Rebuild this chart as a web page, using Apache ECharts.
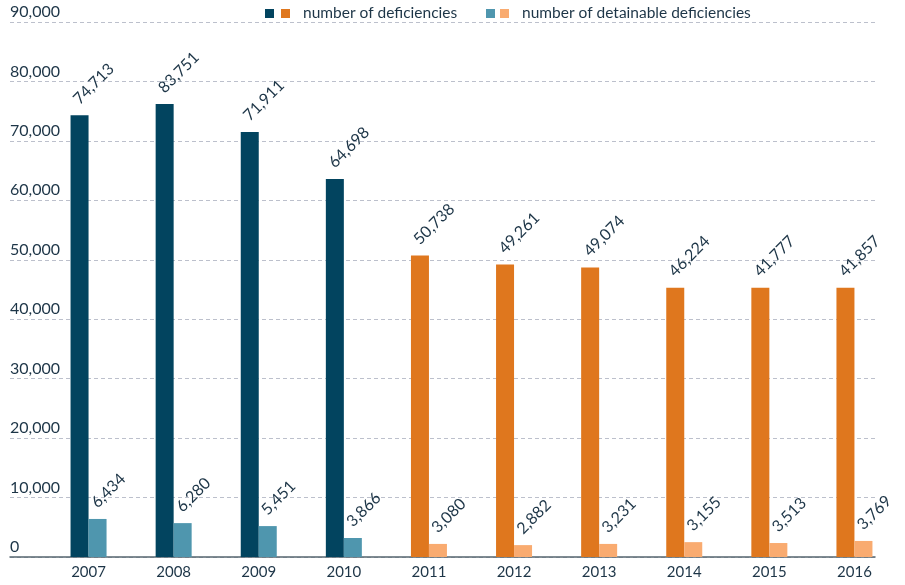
<!DOCTYPE html>
<html><head><meta charset="utf-8">
<script src="https://cdn.jsdelivr.net/npm/echarts@6/dist/echarts.min.js"></script>
<style>html,body{margin:0;padding:0;background:#fff}#c{width:905px;height:585px}</style>
</head><body><div id="c"></div>
<script>
const years = ['2007','2008','2009','2010','2011','2012','2013','2014','2015','2016'];
const deficiencies = [74300, 76200, 71500, 63600, 50700, 49200, 48700, 45300, 45300, 45300];
const detainable = [6400, 5700, 5200, 3200, 2200, 2000, 2200, 2500, 2350, 2700];
const deficiencyLabels = ['74,713','83,751','71,911','64,698','50,738','49,261','49,074','46,224','41,777','41,857'];
const detainableLabels = ['6,434','6,280','5,451','3,866','3,080','2,882','3,231','3,155','3,513','3,769'];
const yTicks = [0, 10000, 20000, 30000, 40000, 50000, 60000, 70000, 80000, 90000];
const legendNames = ['number of deficiencies', 'number of detainable deficiencies'];

const NAVY = '#02445f', ORANGE = '#df771e', TEAL = '#4f96ae', PEACH = '#f9ab70', TXT = '#1d3547';
const FONT = 'Lato';
const isOld = y => +y <= 2010;

const labelBase = {
  show: true, position: 'top', rotate: 45, align: 'left', verticalAlign: 'middle',
  distance: 6, offset: [3, -8], color: TXT, fontFamily: FONT, fontSize: 16
};

const chart = echarts.init(document.getElementById('c'));
chart.setOption({
  animation: false,
  grid: [
    {left: 10, right: 30, top: 22, bottom: 28},
    {left: 46, right: 8, top: 22, bottom: 28}
  ],
  xAxis: [
    {gridIndex: 0, type: 'value', min: 0, max: 1, axisLine: {show: true, lineStyle: {color: '#56656f', width: 1.5}},
     axisTick: {show: false}, axisLabel: {show: false}, splitLine: {show: false}},
    {gridIndex: 1, type: 'category', data: years, axisLine: {show: false}, axisTick: {show: false},
     axisLabel: {color: TXT, fontFamily: FONT, fontSize: 15, margin: 8}}
  ],
  yAxis: [
    {gridIndex: 0, type: 'value', min: yTicks[0], max: yTicks[yTicks.length-1], interval: yTicks[1]-yTicks[0],
     axisLine: {show: false}, axisTick: {show: false},
     axisLabel: {inside: true, margin: 0, verticalAlign: 'bottom', align: 'left', padding: [0,0,2,0],
       color: TXT, fontFamily: FONT, fontSize: 16,
       formatter: v => v === 0 ? '0' : v.toLocaleString('en-US')},
     splitLine: {show: true, lineStyle: {color: '#bcc0cc', type: [4, 3], width: 1}}},
    {gridIndex: 1, type: 'value', min: yTicks[0], max: yTicks[yTicks.length-1], show: false, splitLine: {show: false}}
  ],
  series: [
    {name: legendNames[0], type: 'bar', xAxisIndex: 1, yAxisIndex: 1, barWidth: 18, barGap: '0%',
     data: deficiencies.map((v, i) => ({value: v, itemStyle: {color: isOld(years[i]) ? NAVY : ORANGE}})),
     label: Object.assign({}, labelBase, {formatter: p => deficiencyLabels[p.dataIndex]})},
    {name: legendNames[1], type: 'bar', xAxisIndex: 1, yAxisIndex: 1, barWidth: 18, barGap: '0%',
     data: detainable.map((v, i) => ({value: v, itemStyle: {color: isOld(years[i]) ? TEAL : PEACH}})),
     label: Object.assign({}, labelBase, {formatter: p => detainableLabels[p.dataIndex]})}
  ],
  graphic: [
    {type: 'rect', left: 265, top: 9, shape: {width: 9, height: 9}, style: {fill: NAVY}},
    {type: 'rect', left: 281, top: 9, shape: {width: 9, height: 9}, style: {fill: ORANGE}},
    {type: 'text', left: 303, top: 5, style: {text: legendNames[0], fill: TXT, font: '15.5px ' + FONT}},
    {type: 'rect', left: 486, top: 9, shape: {width: 9, height: 9}, style: {fill: TEAL}},
    {type: 'rect', left: 500, top: 9, shape: {width: 9, height: 9}, style: {fill: PEACH}},
    {type: 'text', left: 522, top: 5, style: {text: legendNames[1], fill: TXT, font: '15.5px ' + FONT}}
  ]
});
</script></body></html>
